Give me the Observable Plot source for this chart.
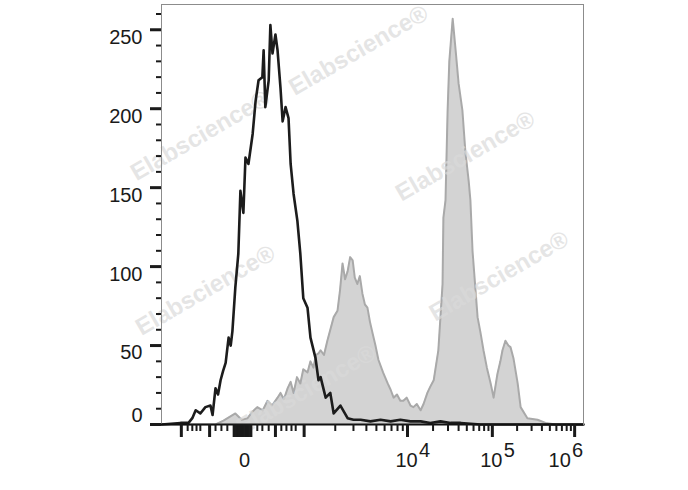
<!DOCTYPE html>
<html>
<head>
<meta charset="utf-8">
<script src="https://cdn.jsdelivr.net/npm/d3@7"></script>
<script src="https://cdn.jsdelivr.net/npm/@observablehq/plot@0.6"></script>
<style>
  html, body { margin: 0; padding: 0; background: #fff; }
  #chart { width: 688px; height: 490px; }
  svg { font-family: "Liberation Sans", Arial, sans-serif; }
</style>
</head>
<body>
<div id="chart"></div>
<script>
// ---- Data (display channel 0..1000 on a biexponential axis, event counts) ----
const blackCh = [0,45,64,73,81,92,104,116,121,128,134,140,146,152,159,164,168,175,182,187,194,199,206,216,223,230,239,242,246,254,258,263,270,275,282,287,294,301,306,313,322,329,336,346,353,365,372,377,389,400,408,424,441,455,472,495,519,543,566,590,614,637,661,685,709,756,1000];
const blackCount = [0,1,1,4,9,7,11,12,6,23,19,28,34,39,55,50,59,87,108,148,134,169,165,184,205,218,220,237,201,218,253,235,247,237,213,192,201,194,165,146,129,108,80,74,55,42,28,30,17,20,7,12,4,3,3,2,3,2,3,2,2,1,2,1,1,0,0];

const grayCh = [0,128,147,175,190,204,215,227,240,251,262,275,282,290,299,306,313,321,329,336,346,353,360,366,372,377,385,393,400,408,417,423,429,435,441,447,453,458,464,470,476,482,488,494,500,507,514,525,536,543,550,558,566,573,581,590,597,605,614,621,630,637,645,656,666,668,673,678,682,690,697,704,713,720,728,732,737,749,756,763,771,780,787,796,803,808,815,822,827,834,844,851,867,891,910,934,1000];
const grayCount = [0,0,2.5,7,3,4,8,11,9,15,12,17,20,16,23,27,20,30,26,35,33,40,36,44,45,47,44,53,60,68,72,85,102,92,97,106,104,93,89,94,83,76,74,65,58,50,41,33,26,22,17,19,15,15,17,12,11,13,9,13,20,24,28,47,89,131,142,199,230,257,237,216,199,173,154,142,110,68,58,47,36,26,17,32,40,47,53,50,49,42,26,11,4,3,1,0,0];

// y axis
const yMajor = [0, 50, 100, 150, 200, 250];
const yMinor = d3.range(0, 261, 10).filter(v => v % 50 !== 0);

// x axis (channels of the biexponential display)
const xMajorLinear = [47, 114, 270, 338];
const xZeroCluster = [171,174,177,180,183,186,189,192,195,198,201,204,207,210,213];
const xMinorLinear = [62,73,83,92,128,142,156,227,239,254,284,296,308,318];
const decadeChannels = [338, 583, 784, 979]; // 10^3, 10^4, 10^5, 10^6
const zeroLabel = [{ch: 192, text: "0"}];
const powerLabels = [{ch: 583, exp: "4"}, {ch: 784, exp: "5"}];
const lastPowerLabel = [{ch: 979, exp: "6"}];

// watermark
const wmCh = [467, 92, 720, 800, 104, 343];
const wmCount = [237, 183, 170, 94, 85, 22];

// derived log minor ticks within each decade
const xMinorLog = [];
for (let i = 0; i < decadeChannels.length - 1; i++) {
  const a = decadeChannels[i], b = decadeChannels[i + 1];
  for (let k = 2; k <= 9; k++) xMinorLog.push(a + (b - a) * Math.log10(k));
}
const xMajor = [...xMajorLinear, ...decadeChannels.slice(1)];

const black = blackCh.map((c, i) => ({ch: c, n: blackCount[i]}));
const gray = grayCh.map((c, i) => ({ch: c, n: grayCount[i]}));
const wm = wmCh.map((c, i) => ({ch: c, n: wmCount[i]}));

const font = "Liberation Sans, Arial, sans-serif";

const chart = Plot.plot({
  width: 688,
  height: 490,
  marginLeft: 161,
  marginRight: 105,
  marginTop: 4,
  marginBottom: 66,
  style: {fontFamily: font, background: "#fff"},
  x: {type: "linear", domain: [0, 1000]},
  y: {type: "linear", domain: [0, 266]},
  marks: [
    Plot.areaY(gray, {x: "ch", y: "n", fill: "#d3d3d3", curve: "linear"}),
    Plot.lineY(gray, {x: "ch", y: "n", stroke: "#a9a9a9", strokeWidth: 2, curve: "linear"}),
    Plot.text(wm, {x: "ch", y: "n", text: () => "Elabscience®", rotate: -30, fontSize: 24, fontWeight: "bold", fill: "#dadada", fillOpacity: 0.7}),
    Plot.lineY(black, {x: "ch", y: "n", stroke: "#1c1c1c", strokeWidth: 2.6, curve: "linear"}),
    Plot.frame({stroke: "#8c8c8c", strokeWidth: 1}),
    Plot.ruleY([0], {stroke: "#111", strokeWidth: 2}),
    // y axis ticks
    Plot.axisY(yMajor, {anchor: "left", tickSize: 11, strokeWidth: 3, stroke: "#1a1a1a", tickFormat: () => "", label: null}),
    Plot.axisY(yMinor, {anchor: "left", tickSize: 5, strokeWidth: 2, stroke: "#1a1a1a", tickFormat: () => "", label: null}),
    Plot.text(yMajor.filter(v => v !== 0), {y: d => d, text: d => String(d), frameAnchor: "left", dx: -19, dy: 7.5, textAnchor: "end", fontSize: 20, fill: "#1a1a1a"}),
    Plot.text([0], {y: d => d, text: d => String(d), frameAnchor: "left", dx: -19, dy: -9, textAnchor: "end", fontSize: 20, fill: "#1a1a1a"}),
    // x axis ticks
    Plot.axisX(xMajor, {anchor: "bottom", tickSize: 13, strokeWidth: 3, stroke: "#1a1a1a", tickFormat: () => "", label: null}),
    Plot.axisX(xZeroCluster, {anchor: "bottom", tickSize: 13, strokeWidth: 2, stroke: "#1a1a1a", tickFormat: () => "", label: null}),
    Plot.axisX([...xMinorLinear, ...xMinorLog], {anchor: "bottom", tickSize: 7, strokeWidth: 2, stroke: "#1a1a1a", tickFormat: () => "", label: null}),
    // x labels
    Plot.text(zeroLabel, {x: "ch", text: "text", frameAnchor: "bottom", dx: 2, dy: 42, fontSize: 20, fill: "#1a1a1a"}),
    Plot.text(powerLabels, {x: "ch", text: () => "10", frameAnchor: "bottom", dx: -1, dy: 42, fontSize: 20, fill: "#1a1a1a"}),
    Plot.text(powerLabels, {x: "ch", text: "exp", frameAnchor: "bottom", dx: 17, dy: 32, fontSize: 20, fill: "#1a1a1a"}),
    Plot.text(lastPowerLabel, {x: "ch", text: () => "10", frameAnchor: "bottom", dx: -15, dy: 42, fontSize: 20, fill: "#1a1a1a"}),
    Plot.text(lastPowerLabel, {x: "ch", text: "exp", frameAnchor: "bottom", dx: 3, dy: 32, fontSize: 20, fill: "#1a1a1a"})
  ]
});
document.getElementById("chart").append(chart);
</script>
</body>
</html>
